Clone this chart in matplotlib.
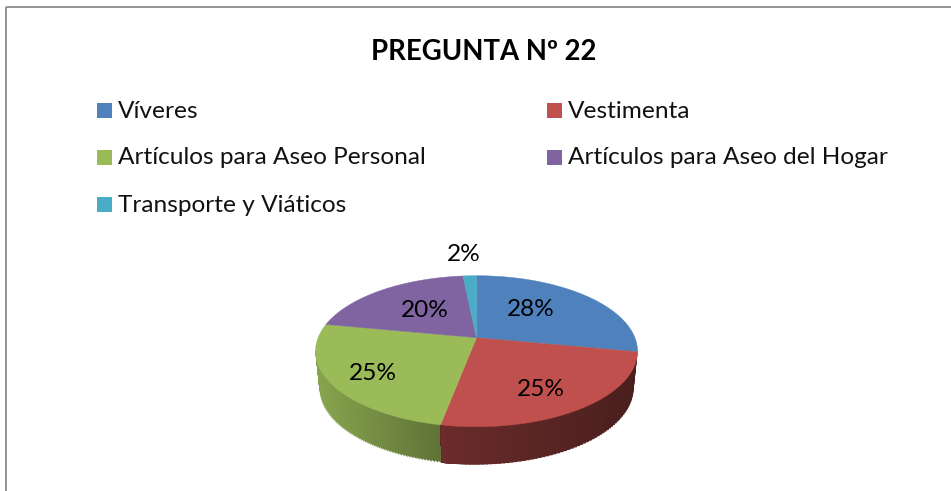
import numpy as np
import matplotlib
matplotlib.use("Agg")
import matplotlib.pyplot as plt
from matplotlib.patches import Rectangle

plt.rcParams['font.family'] = ['Lato', 'DejaVu Sans']

TITLE = "PREGUNTA Nº 22"
categories = ["Víveres", "Vestimenta", "Artículos para Aseo Personal",
              "Artículos para Aseo del Hogar", "Transporte y Viáticos"]
values = [28, 25, 25, 20.4, 1.6]
colors = ["#4F81BD", "#C0504D", "#9BBB59", "#8064A2", "#4BACC6"]

# layout, in pixels of the 951x491 picture
W, H = 951, 491
APEX = (476.5, 337.7)
PERSP, QY, SX = 0.179, 73.1, 158.4
DEPTH = 38
BOTTOM_SCALE = 0.975
LABEL_POS = [(531, 309.5), (541, 389.5), (373, 373.5), (425, 310.5), (464, 254.5)]
LEGEND_SWATCH_X = [97, 547]
LEGEND_ROW_Y = [110.5, 157.5, 204.5]
LEGEND_COLS = [0, 1, 0, 1, 0]
LEGEND_ROWS = [0, 0, 1, 1, 2]
# wall brightness at the left and right end of each visible wall
WALL_SHADE = {1: (0.56, 0.38), 2: (0.88, 0.62)}


def project(angle):
    # angle in degrees, clockwise from the back of the pie
    a = np.radians(angle)
    u, v = np.sin(a), np.cos(a)
    d = 1 + PERSP * v
    return APEX[0] + SX * u / d, APEX[1] - QY * v / d


fig = plt.figure(figsize=(W / 100, H / 100), dpi=100)
ax = fig.add_axes((0, 0, 1, 1))
ax.set_xlim(0, W)
ax.set_ylim(H, 0)
ax.axis("off")

ax.add_patch(Rectangle((6, 7), W + 20, H + 20, fill=False, edgecolor="#8a8a8a", linewidth=1.3))

ax.text(484, 51.5, TITLE, fontsize=19.8, fontweight="bold", ha="center", va="center", color="black")

for i, name in enumerate(categories):
    x = LEGEND_SWATCH_X[LEGEND_COLS[i]]
    y = LEGEND_ROW_Y[LEGEND_ROWS[i]]
    ax.add_patch(Rectangle((x, y - 7.5), 15, 15, facecolor=colors[i], edgecolor="none"))
    ax.text(x + 21, y + 0.5, name, fontsize=17.6, ha="left", va="center", color="#111111")

edges = np.concatenate(([0], np.cumsum(values))) / sum(values) * 360


def wall_quad(a0, a1):
    x0, y0 = project(a0)
    x1, y1 = project(a1)
    bx0 = APEX[0] + (x0 - APEX[0]) * BOTTOM_SCALE
    bx1 = APEX[0] + (x1 - APEX[0]) * BOTTOM_SCALE
    return [x0, x1, bx1, bx0], [y0, y1, y1 + DEPTH, y0 + DEPTH]


# side wall: the red part is laid over the green one, going right to left
# strips overlap the next ones so no white seams show between them
for i, (lo, hi) in WALL_SHADE.items():
    start = max(edges[i], 100.3)
    stop = min(edges[i + 1], 259.7)
    steps = np.linspace(start, stop, 70)
    xs0 = project(start)[0]
    xs1 = project(stop)[0]
    base = np.array(matplotlib.colors.to_rgb(colors[i]))
    for j in range(len(steps) - 1):
        x0 = project(steps[j])[0]
        t = (x0 - xs1) / (xs0 - xs1)
        c = base * (lo + (hi - lo) * t)
        qx, qy = wall_quad(steps[j], stop)
        ax.fill(qx, qy, color=c, linewidth=0, zorder=2 + i * 0.001 if i == 2 else 2.5)

# top face
for i in range(len(values)):
    steps = np.linspace(edges[i], edges[i + 1], 80)
    px, py = project(steps)
    ax.fill(np.r_[APEX[0], px], np.r_[APEX[1], py], facecolor=colors[i], edgecolor=colors[i],
            linewidth=0.3, zorder=3)

for v, (x, y) in zip(values, LABEL_POS):
    ax.text(x, y, f"{v:.0f}%", fontsize=17.6, ha="center", va="center", color="black", zorder=4)

fig.savefig("out.png", dpi=100)
